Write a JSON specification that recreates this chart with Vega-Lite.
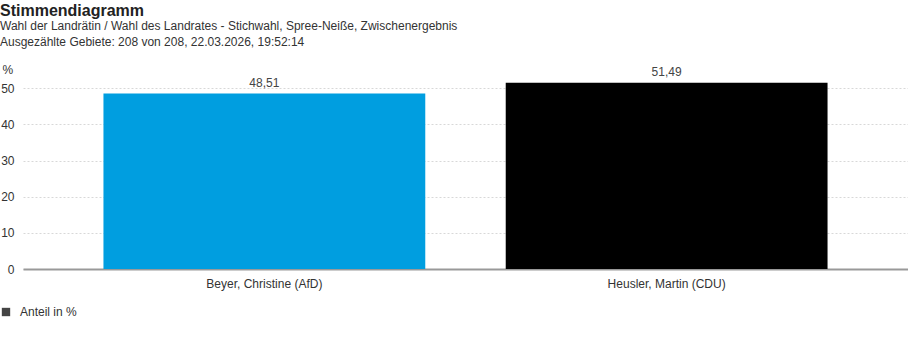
{
  "$schema": "https://vega.github.io/schema/vega-lite/v6.json",
  "width": 885,
  "height": 188,
  "padding": {"left": 0, "top": 3, "right": 0, "bottom": 5},
  "autosize": {"type": "pad"},
  "background": "white",
  "title": {
    "text": "Stimmendiagramm",
    "subtitle": ["Wahl der Landrätin / Wahl des Landrates - Stichwahl, Spree-Neiße, Zwischenergebnis", "Ausgezählte Gebiete: 208 von 208, 22.03.2026, 19:52:14"],
    "anchor": "start",
    "frame": "bounds",
    "font": "Liberation Sans",
    "fontSize": 16,
    "fontWeight": "bold",
    "color": "#222",
    "subtitleFont": "Liberation Sans",
    "subtitleFontSize": 12,
    "subtitleColor": "#333",
    "subtitleLineHeight": 16,
    "subtitlePadding": 2,
    "offset": 15
  },
  "data": {
    "values": [
      {"Kandidat": "Beyer, Christine (AfD)", "Anteil": 48.51},
      {"Kandidat": "Heusler, Martin (CDU)", "Anteil": 51.49}
    ]
  },
  "encoding": {
    "x": {
      "field": "Kandidat",
      "type": "nominal",
      "sort": null,
      "scale": {"paddingInner": 0.2, "paddingOuter": 0.2},
      "axis": {
        "title": null,
        "labelAngle": 0,
        "labelFont": "Liberation Sans",
        "labelFontSize": 12,
        "labelColor": "#333",
        "labelPadding": 9,
        "ticks": false,
        "domainColor": "#999",
        "domainWidth": 2,
        "grid": false
      }
    },
    "y": {
      "field": "Anteil",
      "type": "quantitative",
      "scale": {"domain": [0, 52], "nice": false},
      "axis": {
        "title": "%",
        "titleAngle": 0,
        "titleAlign": "left",
        "titleBaseline": "bottom",
        "titleX": -21,
        "titleY": -5,
        "titleFont": "Liberation Sans",
        "titleFontSize": 12,
        "titleFontWeight": "normal",
        "titleColor": "#333",
        "values": [0, 10, 20, 30, 40, 50],
        "labelFont": "Liberation Sans",
        "labelFontSize": 12,
        "labelColor": "#333",
        "labelPadding": 9,
        "ticks": false,
        "domain": false,
        "grid": true,
        "gridColor": "#d8d8d8",
        "gridDash": [2, 2],
        "gridWidth": 1
      }
    }
  },
  "layer": [
    {
      "mark": {"type": "bar"},
      "encoding": {
        "color": {
          "field": "Kandidat",
          "type": "nominal",
          "scale": {"domain": ["Beyer, Christine (AfD)", "Heusler, Martin (CDU)"], "range": ["#009ee0", "#000000"]},
          "legend": null
        }
      }
    },
    {
      "mark": {"type": "text", "baseline": "bottom", "dy": -4, "font": "Liberation Sans", "fontSize": 12},
      "encoding": {
        "text": {"field": "Anteil", "type": "quantitative", "format": ".2f"},
        "color": {
          "datum": "Anteil in %",
          "scale": {"range": ["#444444"]},
          "legend": {
            "title": null,
            "orient": "none",
            "legendX": -23,
            "legendY": 225,
            "padding": 0,
            "symbolType": "square",
            "symbolSize": 70,
            "symbolStrokeWidth": 0,
            "labelFont": "Liberation Sans",
            "labelFontSize": 12,
            "labelColor": "#333",
            "labelOffset": 8
          }
        }
      }
    }
  ],
  "resolve": {"scale": {"color": "independent"}},
  "config": {
    "view": {"stroke": null},
    "locale": {
      "number": {"decimal": ",", "thousands": ".", "grouping": [3], "currency": ["", " €"]}
    }
  }
}
